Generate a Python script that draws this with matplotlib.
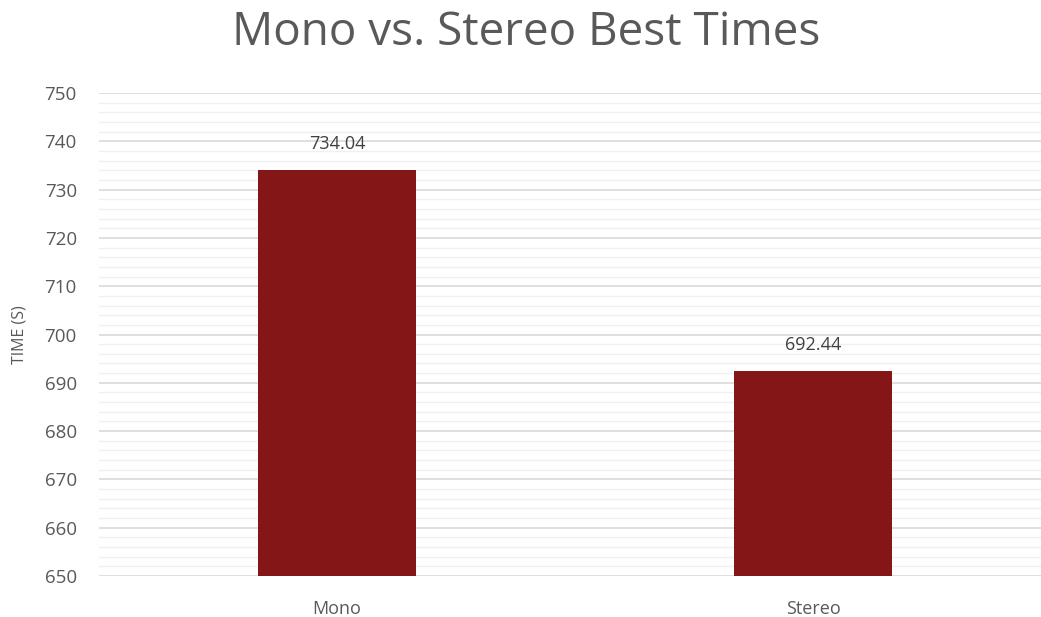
import matplotlib
matplotlib.use("Agg")
import matplotlib.pyplot as plt
from matplotlib.ticker import MultipleLocator

categories = ["Mono", "Stereo"]
best_times = [734.04, 692.44]
y_ticks = [650, 660, 670, 680, 690, 700, 710, 720, 730, 740, 750]

plt.rcParams["font.family"] = ["Open Sans", "DejaVu Sans"]

W, H = 1041, 617
fig = plt.figure(figsize=(W / 100, H / 100), dpi=100)
ax = fig.add_axes([99 / W, 1 - 576 / H, (W - 99) / W, (576 - 93) / H])

x = list(range(len(categories)))
ax.bar(x, best_times, width=0.334, bottom=0, color="#841617", zorder=3)
ax.set_ylim(650, 750)
ax.set_xlim(-0.5, 1.479)

ax.set_yticks(y_ticks)
ax.yaxis.set_minor_locator(MultipleLocator(2))
ax.grid(axis="y", which="major", color="#d9d9d9", linewidth=1.2, zorder=0)
ax.grid(axis="y", which="minor", color="#f0f0f0", linewidth=1.0, zorder=0)
ax.tick_params(axis="both", which="both", length=0, colors="#595959")
ax.tick_params(axis="y", labelsize=13.5, pad=16)
ax.tick_params(axis="x", labelsize=13, pad=17)
ax.set_xticks(x)
ax.set_xticklabels(categories)
for s in ax.spines.values():
    s.set_visible(False)

for xi, v in zip(x, best_times):
    ax.annotate(f"{v:.2f}", (xi, v), xytext=(0, 12), textcoords="offset points",
                ha="center", va="bottom", fontsize=13, color="#404040")

ax.set_ylabel("TIME (S)", fontsize=11.5, color="#595959", labelpad=12)
fig.text(526 / W, 1 - 33 / H, "Mono vs. Stereo Best Times", ha="center", va="center",
         fontsize=33, color="#595959")

fig.savefig("out.png", dpi=100)
